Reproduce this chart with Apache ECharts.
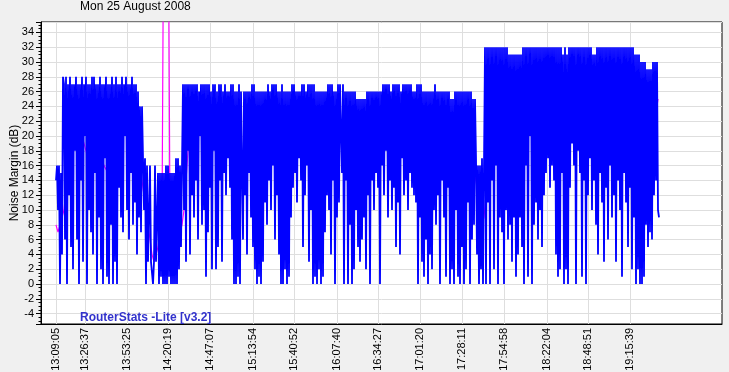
<!DOCTYPE html>
<html><head><meta charset="utf-8">
<script src="https://cdn.jsdelivr.net/npm/echarts@6/dist/echarts.min.js"></script>
<style>html,body{margin:0;padding:0;background:#f0f0f0;}#c{width:729px;height:372px;}</style>
</head><body><div id="c"></div>
<script>
// tick positions (sample index) and their time labels
const xTickIndex = [0, 29, 71, 112, 154, 197, 238, 281, 322, 364, 406, 448, 491, 532, 574];
const xTickLabels = ['13:09:05','13:26:37','13:53:25','14:20:19','14:47:07','15:13:54','15:40:52','16:07:40','16:34:27','17:01:20','17:28:11','17:54:58','18:22:04','18:48:51','19:15:39'];

// Noise margin samples (dB), one per sample index
const segA = [14,16,10,16,0,15,4];
const segB = [
28,27,6,28,0,27,12,28,5,27,
2,27,18,28,6,27,0,27,14,28,
3,27,20,28,0,27,10,27,7,28,
4,28,15,27,0,27,9,28,2,27,
0,27,17,28,1,27,0,27,8,28,
0,27,3,28,0,27,13,27,9,28,
7,27,20,28,10,27,6,27,15,28,
8,27,11,27,4,26,9,24,7,24];
const segC = [17,10,17,0,16,3,3,16,3,3,0,3,16,3,3];
const segD = [15,0,15,1,15,0,15,0,16,0,16,1,15,0,15,0,15,0,17,0,17,2,16,5,16];
const segE1 = [
27,10,27,3,27,18,27,4,27,12,
27,9,27,14,27,6,26,20,27,8,
27,10,27,1,27,7,27,13,26,2,
27,18,27,2,26,5,27,14,27,3,
26,15,27,12,26,17,26,13,27,6,
27,0,26,0,26,1,27,0,26];
const segE2 = [
26,6,26,12,26,4,26,15,26,9,
27,5,27,2,26,0,26,1,26,0,
26,3,26,11,26,8,27,14,26,10,
27,16,27,6,27,12,26,4,26,0,
27,0,26,2,26,0,26,1,26,9,
27,13,27,15,26,11,26,17,26,14,
27,5,27,12,26,16,27,3,27,10,
27,0,27,1,26,0,26,2,26,0,
26,1,26,7,26,12,27,10,27,4,
27,14,26,0,26,9,27,11,27];
const segE3 = [
27,15,27,0,26,14,26,0,26,8,
26,0,26,2,26,10,25,5,25,3,
25,6,25,9,25,2,26,12,26,0,
26,14,26,10,26,15,26,13,26,0,
26,16,27,12,27,18,27,9,27,14,
26,10,27,13,27,5,27,11,27,4,
26,17,27,12,27,14,27,10,27,15,
27,13,26,12,26,11,27,0,27,9,
27,3,26,1,26,6,26,0,26,4,
26,2,26,10,27,8,26,12,26,0,
26,14,26,9,26,1,26,13,26,0,
25,2,25,0,26,10,26,1,26,0,
26,5,26,0,26,2,26,11,26,0,
26,6,25,8,25];
const segF = [17,4,16,0,16,2,17,0,16];
const segG = [
32,0,32,11,32,0,32,14,32,2,
32,16,32,0,32,9,32,7,32,0,
32,10,32,6,31,8,31,3,31,9,
31,1,31,4,31,9,31,5,32,0,
32,16,32,1,32,20,32,0,32,8,
32,11,32,6,32,10,32,5,32,12,
32,15,32,17,32,13,32,16,32,14,
32,4,32,1,32,2,32,15,31,0,
32,2,31,0,32,13,32,19,32,16,
32,0,32,18,32,15,32,1,32,14,
32,0,32,12,32,17,32,10,31,14,
31,8,32,4,32,15,32,11,32,3,
32,13,32,6,32,16,32,9,32,12,
32,3,32,14,32,10,32,1,32,15,
32,11,32,5,32,13,32,2,32,9,
31,0,31,2,31,0];
const segH = [30,0,30,1,30,8,29,5,29,7,29,6,30,12,30,14,30,10,9];
const noiseMargin = [].concat(segA, segB, segC, segD, segE1, segE2, segE3, segF, segG, segH);

// Averaged margin (dB), one value every 2 samples
const avgStep = 2;
const averageMargin = [
8,7,8,8,
10,13,17,20,22,
22,21,22,21,20,19,
18,17,18,20,20,19,
19,18,17,16,16,15,
15,16,15,18,22,
24,25,24,23,22,22,
21,21,20,18,16,14,
12,10,8,6,4,3,
3,5,7,8,
60,60,60,
8,7,7,8,8,7,8,
10,14,18,18,19,20,22,
23,24,24,23,23,23,23,
23,23,22,22,21,21,20,
20,20,19,19,19,18,18,18,
18,18,19,19,18,18,18,18,
18,18,19,19,19,19,19,20,19,19,19,19,
19,18,18,18,17,18,18,19,19,19,
19,19,20,20,19,19,18,18,17,17,
17,17,18,18,19,19,20,21,21,22,
20,19,18,17,16,15,15,15,16,15,
15,16,20,20,19,19,18,18,19,20,
21,21,22,22,22,21,21,22,23,23,
24,23,23,23,22,22,22,22,22,22,
22,22,21,21,20,19,18,18,18,18,
18,18,18,18,18,18,18,18,18,17,
17,17,17,17,17,16,15,14,12,
10,8,9,12,15,
20,24,24,25,25,24,
24,23,23,22,22,23,23,24,24,24,
24,24,23,23,22,22,21,21,21,20,
20,20,20,20,21,22,24,25,26,27,
27,27,28,26,25,25,26,27,27,26,
26,26,27,28,28,27,26,25,24,24,
25,26,27,28,28,28,27,27,27,26,
26,26,27,27,27,28,28,28,27,26,
22,17,15,14,16,18,20,23,25];

const FONT = '"Liberation Sans", Arial, sans-serif';
const chart = echarts.init(document.getElementById('c'), null, {renderer: 'canvas'});
chart.setOption({
  animation: false,
  backgroundColor: '#f0f0f0',
  title: {
    text: 'Mon 25 August 2008', left: 80, top: 1, padding: 0,
    textStyle: {fontSize: 12, fontWeight: 'normal', color: '#000', fontFamily: FONT}
  },
  grid: {
    left: 41, right: 7, top: 22, bottom: 48, outerBoundsMode: 'none',
    show: true, backgroundColor: '#fff', borderColor: '#000', borderWidth: 1
  },
  xAxis: {
    type: 'value', min: -15, max: 666,
    axisLine: {show: true, onZero: false, lineStyle: {color: '#000', width: 1}},
    axisTick: {show: false, customValues: xTickIndex},
    axisLabel: {
      customValues: xTickIndex, rotate: 90, margin: 4, fontSize: 11, color: '#000', fontFamily: FONT,
      formatter: v => { const k = xTickIndex.indexOf(v); return k >= 0 ? xTickLabels[k] : ''; }
    },
    splitLine: {show: true, lineStyle: {color: '#dedede', width: 1}}
  },
  yAxis: {
    type: 'value', min: -5.4, max: 35.4, splitNumber: 20,
    name: 'Noise Margin (dB)', nameLocation: 'middle', nameGap: 20, nameRotate: 90,
    nameMoveOverlap: false,
    nameTextStyle: {fontSize: 12, color: '#000', fontFamily: FONT},
    axisLine: {show: true, onZero: false, lineStyle: {color: '#000', width: 1}},
    axisTick: {show: true, length: 5, lineStyle: {color: '#000'}},
    minorTick: {show: true, splitNumber: 4, length: 2.5, lineStyle: {color: '#000'}},
    axisLabel: {
      margin: 7, fontSize: 11, color: '#000', fontFamily: FONT,
      formatter: v => Math.abs(v - Math.round(v)) < 1e-6 ? String(Math.round(v)) : ''
    },
    splitLine: {show: true, lineStyle: {color: '#dedede', width: 1}}
  },
  graphic: [{
    type: 'text', left: 80, top: 312, z: 100,
    style: {text: 'RouterStats -Lite [v3.2]', fill: '#3333cc', font: 'bold 12px ' + FONT}
  }],
  series: [
    {
      type: 'line', name: 'average', showSymbol: false, symbol: 'none', clip: true, z: 2,
      lineStyle: {color: '#ff00ff', width: 1.2}, itemStyle: {color: '#ff00ff'},
      data: averageMargin.map((v, k) => [k * avgStep, v])
    },
    {
      type: 'line', name: 'margin', showSymbol: false, symbol: 'none', clip: true, z: 3,
      lineStyle: {color: '#0000ff', width: 1.8}, itemStyle: {color: '#0000ff'},
      data: noiseMargin.map((v, i) => [i, v])
    }
  ]
});
</script></body></html>
